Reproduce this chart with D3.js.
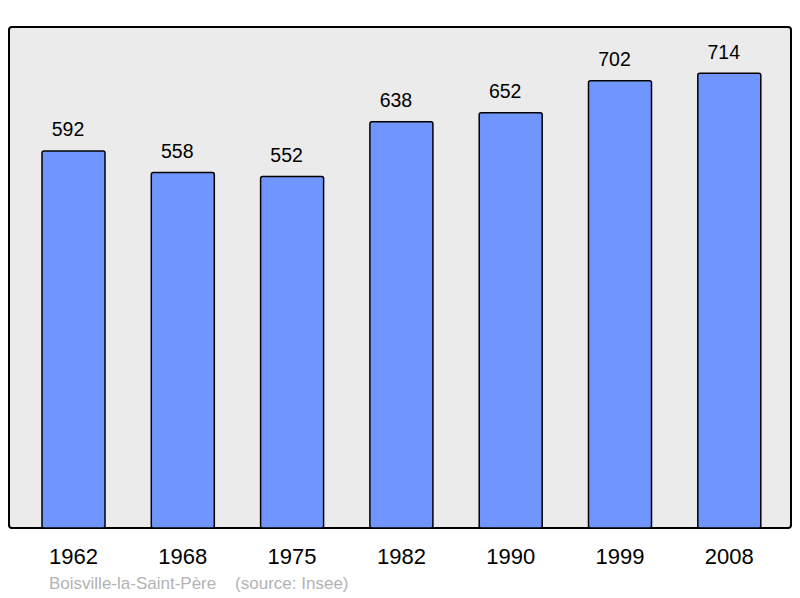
<!DOCTYPE html>
<html><head><meta charset="utf-8">
<script src="https://cdn.jsdelivr.net/npm/d3@7"></script>
<style>body{margin:0;background:#fff}svg{display:block}</style>
</head><body>
<script>
const years = ["1962","1968","1975","1982","1990","1999","2008"];
const population = [592,558,552,638,652,702,714];
const caption = "Boisville-la-Saint-Père    (source: Insee)";

const W = 800, H = 598;
const svg = d3.select("body").append("svg").attr("width", W).attr("height", H);
const panel = {x0: 9, y0: 27, x1: 791, y1: 528};

svg.append("rect").attr("x", panel.x0).attr("y", panel.y0)
  .attr("width", panel.x1 - panel.x0).attr("height", panel.y1 - panel.y0)
  .attr("rx", 3).attr("fill", "#ebebeb").attr("stroke", "#000").attr("stroke-width", 2);

const y = d3.scaleLinear().domain([0, 785]).range([528, 28]);

const step = 109.3, bw = 63, first = 42;
const xb = d3.scaleOrdinal().domain(years).range(years.map((d,i)=>first + i*step));

svg.selectAll("rect.bar").data(population).enter().append("rect")
  .attr("class","bar")
  .attr("x", (d,i)=>xb(years[i]))
  .attr("y", d=>y(d))
  .attr("width", bw)
  .attr("height", d=>y(0)-y(d))
  .attr("rx", 2)
  .attr("fill", "#7095ff").attr("stroke", "#000").attr("stroke-width", 1.5);

svg.selectAll("text.val").data(population).enter().append("text")
  .attr("class","val")
  .attr("x", (d,i)=>xb(years[i]) + bw/2 - 5.5)
  .attr("y", d=>y(d) - 14.5)
  .attr("text-anchor","middle")
  .attr("font-family","Liberation Sans, Arial, sans-serif")
  .attr("font-size", 19.5).attr("fill","#000")
  .text(d=>d);

svg.selectAll("text.yr").data(years).enter().append("text")
  .attr("class","yr")
  .attr("x", d=>xb(d) + bw/2)
  .attr("y", 564)
  .attr("text-anchor","middle")
  .attr("font-family","Liberation Sans, Arial, sans-serif")
  .attr("font-size", 22).attr("fill","#000")
  .text(d=>d);

svg.append("text").attr("x", 49).attr("y", 589)
  .attr("font-family","Liberation Sans, Arial, sans-serif")
  .attr("font-size", 17).attr("fill","#b3b3b3")
  .attr("xml:space","preserve").style("white-space","pre")
  .text(caption);
</script>
</body></html>
